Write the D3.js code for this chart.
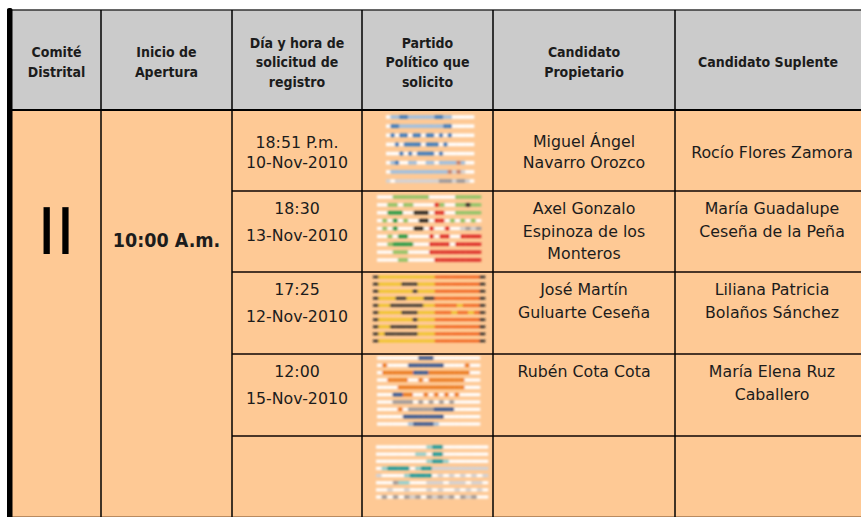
<!DOCTYPE html>
<html>
<head>
<meta charset="utf-8">
<script src="https://cdn.jsdelivr.net/npm/d3@7"></script>
<style>
  body { margin: 0; background: #fff; }
  text { font-family: "DejaVu Sans Condensed", "DejaVu Sans", sans-serif; fill: #1c1c1c; }
</style>
</head>
<body>
<div id="chartholder"></div>
<script>
// table contents
var headers = [
  ["Comité", "Distrital"],
  ["Inicio de", "Apertura"],
  ["Día y hora de", "solicitud de", "registro"],
  ["Partido", "Político que", "solicito"],
  ["Candidato", "Propietario"],
  ["Candidato Suplente"]
];
var comite = "II";
var apertura = "10:00 A.m.";
var horas = ["18:51 P.m.", "18:30", "17:25", "12:00", ""];
var fechas = ["10-Nov-2010", "13-Nov-2010", "12-Nov-2010", "15-Nov-2010", ""];
var propietarios = [
  ["Miguel Ángel", "Navarro Orozco"],
  ["Axel Gonzalo", "Espinoza de los", "Monteros"],
  ["José Martín", "Guluarte Ceseña"],
  ["Rubén Cota Cota"],
  []
];
var suplentes = [
  ["Rocío Flores Zamora"],
  ["María Guadalupe", "Ceseña de la Peña"],
  ["Liliana Patricia", "Bolaños Sánchez"],
  ["María Elena Ruz", "Caballero"],
  []
];

// party logos, blurred in the source: one string per stripe, one char per cell
var palette = {
  w: "#ffffff", b: "#3a7bc0", l: "#9fc0e2", g: "#d2d2d6", s: "#9a9aa0",
  r: "#dc2b26", G: "#1f9a45", L: "#8cc466", k: "#222222",
  y: "#eec41a", o: "#ef5a16", O: "#ea7a22", n: "#2f5596",
  t: "#16999f", c: "#92d2d4", p: "#c08070"
};
var logoPAN = [
  "wllbbllllllbbllwwwww",
  "wbbllllllllllbbwwwww",
  "wbwbbwbbwbbwbwbwwwww",
  "wwbwbbbbwbbbwbwwwwww",
  "wwwbwbwbbbbwbwwwwwww",
  "wlbwwllwwllwllllplww",
  "wlllllllllllllpgpgww",
  "gwggggggggggsssgssgw"
];
var logoPRI = [
  "wwwLLLLLLLwwwwwLLLLL",
  "wwLLwLLwwwwrLwwLLkLL",
  "wwGGGwwkkkwrrwwLLLLL",
  "wLwGwLwwkkwrrwLwLwLw",
  "wLwGwwwkkwrwwrwwgsgs",
  "wwLwGGwwwwrwrrwwrrrr",
  "wwLGGGGwwwrrrrwrrrrr",
  "wwwLLLwwwwrrrrrrrrrr",
  "wwwwLLwwwwwrrrrrrrrr"
];
var logoPRD = [
  "kyyyyyyyyyyooooooook",
  "kyyyykkkyyyooooooook",
  "kyyyyyykyyyooooooook",
  "kyyykkyyykkooooooook",
  "kyykkkkkkyyooooyoook",
  "kyyyykkkyyyoooyooyok",
  "kyyyyyykyyyooooooook",
  "kyykkkkkyyyooooooook",
  "kykkkkkkyyyooooooook",
  "kyyyyyyyyyyooooooook"
];
var logoPT = [
  "wwwwwwwwnnnwwwwwwwww",
  "wOwwwwnnnnnnnwwwwOww",
  "wOOOOOOnnnOOOOOOOOww",
  "wwOOOOwwOwOOOOOOOwww",
  "wwwwOOOOOOOOOOOOOwww",
  "wwwnnOOwwOwOwOwOwwww",
  "wwwsssswswswswswwwww",
  "wwwwOwsssssnnnnwwwww",
  "wwwwwnnnnnnnnwwwwwww",
  "wwwwwwlnnnnlwwwwwwww"
];
var logoPANAL = [
  "wwwwwwwwwcttwwwwwwww",
  "wwwwwwwccwttwwwwwwww",
  "wwwwwwwwwcttcwwwwwww",
  "wcttttwcttgggggggggg",
  "gwwwwcttttwgwgwgwgwg",
  "wwwsccwwwgggwgggwggw",
  "wwgwwgwwwgwgwwgwgwgw",
  "wswswsgswsgsgswsgsww"
];
var partidos = [logoPAN, logoPRI, logoPRD, logoPT, logoPANAL];

function makeChart() {
  var W = 861, H = 517;
  var colX = [12, 101, 232, 362, 493, 675, 868];
  var rowY = [110, 191, 272, 354, 436, 517];
  var headTop = 10;
  var bodyFont = "DejaVu Sans";
  var bodySize = 15.8;

  var svg = d3.select("#chartholder").append("svg")
      .attr("width", W).attr("height", H);

  var defs = svg.append("defs");
  defs.append("filter").attr("id", "blur")
      .append("feGaussianBlur").attr("stdDeviation", 1);

  // backgrounds
  svg.append("rect").attr("x", 7).attr("y", headTop)
      .attr("width", W - 7).attr("height", rowY[0] - headTop)
      .style("fill", "#cbcbcb");
  svg.append("rect").attr("x", 7).attr("y", rowY[0])
      .attr("width", W - 7).attr("height", H - rowY[0])
      .style("fill", "#fec995");

  function center(i) { return (colX[i] + colX[i + 1]) / 2; }

  function lines(g, arr, x, yFirst, step, size, weight, family) {
    g.selectAll(null).data(arr).enter().append("text")
        .attr("x", x)
        .attr("y", function(d, i) { return yFirst + i * step; })
        .attr("text-anchor", "middle")
        .attr("dominant-baseline", "central")
        .style("font-family", family)
        .style("font-size", size + "px")
        .style("font-weight", weight)
        .text(function(d) { return d; });
  }

  // header
  var head = svg.append("g");
  headers.forEach(function(h, i) {
    var step = 19.5;
    var yFirst = 62 - (h.length - 1) * step / 2;
    lines(head, h, i == 5 ? 768 : center(i), yFirst, step, 14, "bold", "DejaVu Sans Condensed");
  });

  // comite and apertura
  svg.append("text").attr("x", 56).attr("y", 232)
      .attr("text-anchor", "middle").attr("dominant-baseline", "central")
      .style("font-family", "DejaVu Sans").style("font-size", "64px")
      .style("fill", "#000").text(comite);
  svg.append("text").attr("x", center(1)).attr("y", 240)
      .attr("text-anchor", "middle").attr("dominant-baseline", "central")
      .style("font-size", "19.5px").style("font-weight", "bold")
      .text(apertura);

  // body rows
  var body = svg.append("g");
  horas.forEach(function(h, r) {
    var top = rowY[r];
    if (r == 0) {
      lines(body, [h, fechas[r]], center(2), 142, 20, bodySize, "normal", bodyFont);
      var p = propietarios[r];
      lines(body, p, center(4), 152 - (p.length - 1) * 10.5, 21, bodySize, "normal", bodyFont);
      var s = suplentes[r];
      lines(body, s, 772, 152 - (s.length - 1) * 10.5, 21, bodySize, "normal", bodyFont);
    } else {
      lines(body, [h, fechas[r]].filter(function(d) { return d; }), center(2), top + 17.5, 27, bodySize, "normal", bodyFont);
      lines(body, propietarios[r], center(4), top + 17.5, 22.5, bodySize, "normal", bodyFont);
      lines(body, suplentes[r], 772, top + 17.5, 22.5, bodySize, "normal", bodyFont);
    }
  });

  // logos
  var logoBox = [
    {x0: 386, x1: 474, y0: 117, y1: 181, t: 3.5},
    {x0: 377, x1: 481, y0: 197, y1: 260, t: 3.2},
    {x0: 373, x1: 485, y0: 277, y1: 341, t: 2.4},
    {x0: 377, x1: 480, y0: 358, y1: 424, t: 3.2},
    {x0: 376, x1: 488, y0: 447, y1: 497, t: 3.2}
  ];
  partidos.forEach(function(logo, i) {
    var b = logoBox[i];
    var n = logo[0].length;
    var xs = d3.scaleLinear().domain([0, n]).range([b.x0, b.x1]);
    var ys = d3.scalePoint().domain(d3.range(logo.length)).range([b.y0, b.y1]);
    var cells = [];
    logo.forEach(function(str, si) {
      str.split("").forEach(function(ch, ci) {
        cells.push({s: si, c: ci, col: palette[ch]});
      });
    });
    svg.append("g").attr("filter", "url(#blur)")
      .selectAll("rect").data(cells).enter().append("rect")
        .attr("x", function(d) { return xs(d.c); })
        .attr("y", function(d) { return ys(d.s) - b.t / 2; })
        .attr("width", xs(1) - xs(0) + 0.3)
        .attr("height", b.t)
        .style("fill", function(d) { return d.col; });
  });

  // grid lines
  var grid = svg.append("g");
  grid.append("line").attr("x1", 7).attr("x2", W).attr("y1", headTop).attr("y2", headTop)
      .style("stroke", "#333").style("stroke-width", 1.5);
  grid.append("line").attr("x1", 7).attr("x2", W).attr("y1", rowY[0]).attr("y2", rowY[0])
      .style("stroke", "#000").style("stroke-width", 2);
  grid.selectAll(null).data(rowY.slice(1, 5)).enter().append("line")
      .attr("x1", colX[2]).attr("x2", W)
      .attr("y1", function(d) { return d; }).attr("y2", function(d) { return d; })
      .style("stroke", "#4a3628").style("stroke-width", 2);
  grid.append("line").attr("x1", 7).attr("x2", W).attr("y1", H - 0.5).attr("y2", H - 0.5)
      .style("stroke", "#b98a60").style("stroke-width", 1);
  grid.selectAll(null).data(colX.slice(1, 6)).enter().append("line")
      .attr("x1", function(d) { return d; }).attr("x2", function(d) { return d; })
      .attr("y1", headTop).attr("y2", H)
      .style("stroke", "#000").style("stroke-width", 1.5);
  grid.append("rect").attr("x", 7).attr("y", 8).attr("width", 5.5).attr("height", H)
      .attr("rx", 2).style("fill", "#000");
}

makeChart();
</script>
</body>
</html>
